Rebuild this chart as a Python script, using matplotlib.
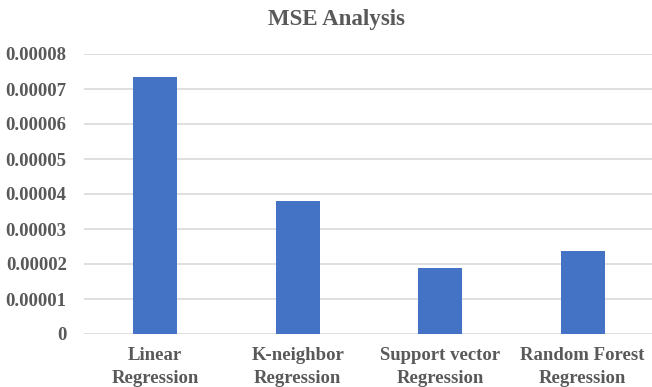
import matplotlib.pyplot as plt

models = ["Linear\nRegression", "K-neighbor\nRegression", "Support vector\nRegression", "Random Forest\nRegression"]
mse = [7.35e-05, 3.8e-05, 1.9e-05, 2.37e-05]
yticks = [0, 0.00001, 0.00002, 0.00003, 0.00004, 0.00005, 0.00006, 0.00007, 0.00008]
ylabels = ["0", "0.00001", "0.00002", "0.00003", "0.00004", "0.00005", "0.00006", "0.00007", "0.00008"]

plt.rcParams['font.family'] = ['Liberation Serif', 'DejaVu Serif']
txt = '#595959'

fig = plt.figure(figsize=(6.52, 3.87), dpi=100)
ax = fig.add_axes([84/652, 53/387, 570/652, 280/387])

x = list(range(len(models)))
ax.bar(x, mse, width=0.31, color='#4472C4', zorder=3)
ax.set_xlim(-0.5, 3.5)
ax.set_ylim(0, 0.00008)
ax.set_yticks(yticks)
ax.set_yticklabels(ylabels, fontsize=13.5, fontweight='bold', color=txt)
ax.set_xticks(x)
ax.set_xticklabels(models, fontsize=13.5, fontweight='bold', color=txt, linespacing=1.5)
ax.tick_params(axis='both', length=0)
ax.tick_params(axis='y', pad=12.5)
ax.tick_params(axis='x', pad=9)
ax.grid(axis='y', color='#d9d9d9', linewidth=1.2, zorder=0)
for s in ax.spines.values():
    s.set_visible(False)

fig.text(336/652, 1 - 20/387, "MSE Analysis", ha='center', va='center',
         fontsize=16.5, fontweight='bold', color=txt)

plt.savefig('out.png', dpi=100)
